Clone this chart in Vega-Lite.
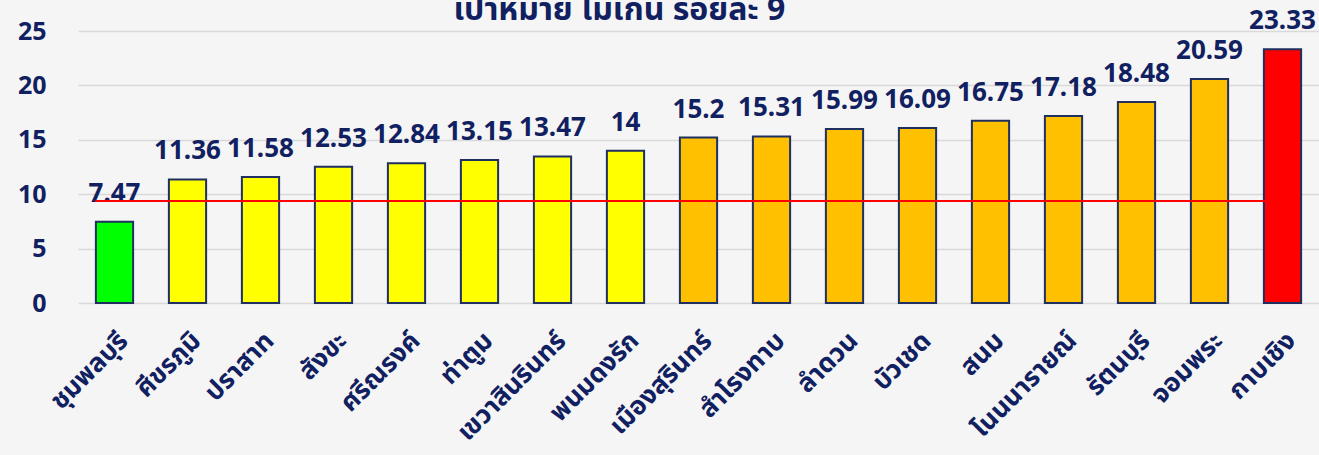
{
  "$schema": "https://vega.github.io/schema/vega-lite/v6.json",
  "width": 1241,
  "height": 272,
  "autosize": {"type": "none"},
  "padding": {"left": 78, "top": 31, "right": 0, "bottom": 152},
  "background": "#f5f5f5",
  "title": {
    "text": "เป้าหมาย ไม่เกิน ร้อยละ 9",
    "anchor": "start",
    "dx": 436,
    "offset": -44,
    "baseline": "alphabetic",
    "font": "Noto Sans Thai, Noto Sans",
    "fontSize": 32,
    "fontWeight": "bold",
    "color": "#102060"
  },
  "config": {
    "view": {"stroke": null},
    "font": "Noto Sans"
  },
  "data": {
    "values": [
      {"district": "ชุมพลบุรี", "value": 7.47, "level": "green"},
      {"district": "ศีขรภูมิ", "value": 11.36, "level": "yellow"},
      {"district": "ปราสาท", "value": 11.58, "level": "yellow"},
      {"district": "สังขะ", "value": 12.53, "level": "yellow"},
      {"district": "ศรีณรงค์", "value": 12.84, "level": "yellow"},
      {"district": "ท่าตูม", "value": 13.15, "level": "yellow"},
      {"district": "เขวาสินรินทร์", "value": 13.47, "level": "yellow"},
      {"district": "พนมดงรัก", "value": 14, "level": "yellow"},
      {"district": "เมืองสุรินทร์", "value": 15.2, "level": "orange"},
      {"district": "สำโรงทาบ", "value": 15.31, "level": "orange"},
      {"district": "ลำดวน", "value": 15.99, "level": "orange"},
      {"district": "บัวเชด", "value": 16.09, "level": "orange"},
      {"district": "สนม", "value": 16.75, "level": "orange"},
      {"district": "โนนนารายณ์", "value": 17.18, "level": "orange"},
      {"district": "รัตนบุรี", "value": 18.48, "level": "orange"},
      {"district": "จอมพระ", "value": 20.59, "level": "orange"},
      {"district": "กาบเชิง", "value": 23.33, "level": "red"}
    ]
  },
  "encoding": {
    "x": {
      "field": "district",
      "type": "nominal",
      "sort": null,
      "scale": {"paddingInner": 0.49},
      "axis": {
        "title": null,
        "labelAngle": -45,
        "labelFont": "Noto Sans Thai, Noto Sans",
        "labelFontSize": 26,
        "labelFontWeight": "bold",
        "labelColor": "#102060",
        "labelPadding": 24,
        "ticks": false,
        "domain": false,
        "grid": false
      }
    }
  },
  "layer": [
    {
      "mark": {"type": "bar", "stroke": "#1f3060", "strokeWidth": 2},
      "encoding": {
        "y": {
          "field": "value",
          "type": "quantitative",
          "scale": {"domain": [0, 25], "nice": false},
          "axis": {
            "title": null,
            "values": [0, 5, 10, 15, 20, 25],
            "labelFont": "Noto Sans",
            "labelFontSize": 25,
            "labelFontWeight": "bold",
            "labelColor": "#102060",
            "labelPadding": 32,
            "ticks": false,
            "domain": false,
            "gridColor": "#d9d9d9",
            "gridWidth": 1.5
          }
        },
        "color": {
          "field": "level",
          "type": "nominal",
          "scale": {
            "domain": ["green", "yellow", "orange", "red"],
            "range": ["#00ff00", "#ffff00", "#ffc000", "#ff0000"]
          },
          "legend": null
        }
      }
    },
    {
      "mark": {
        "type": "text",
        "baseline": "alphabetic",
        "dy": -20,
        "font": "Noto Sans",
        "fontSize": 26,
        "fontWeight": "bold",
        "color": "#102060"
      },
      "encoding": {
        "y": {"field": "value", "type": "quantitative"},
        "text": {"field": "value", "type": "quantitative"}
      }
    },
    {
      "mark": {"type": "rule", "color": "#ff0000", "strokeWidth": 1.5},
      "encoding": {
        "y": {"datum": 9.4, "type": "quantitative"},
        "x": {"datum": "ชุมพลบุรี", "bandPosition": 0},
        "x2": {"datum": "กาบเชิง"}
      }
    }
  ]
}
